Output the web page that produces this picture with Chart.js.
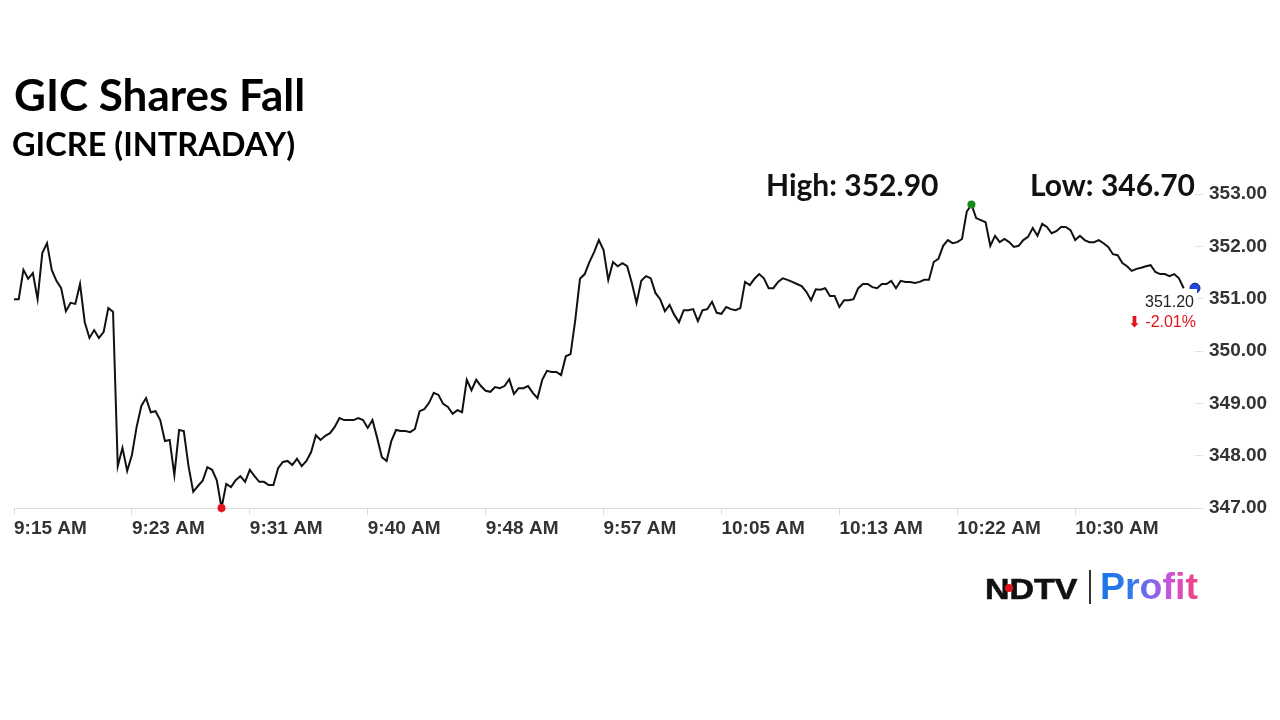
<!DOCTYPE html>
<html><head><meta charset="utf-8">
<script src="https://cdn.jsdelivr.net/npm/chart.js@4.4.1/dist/chart.umd.min.js"></script>
<style>
html,body{margin:0;padding:0;background:#fff;}
#wrap{position:relative;width:1280px;height:720px;overflow:hidden;background:#fff;}
#c{position:absolute;left:0;top:0;}
.t{position:absolute;white-space:nowrap;line-height:1;}
.lato{font-family:'Lato',sans-serif;font-weight:700;color:#111;}
.ar{font-family:'Liberation Sans',Arial,sans-serif;}
#title{left:14px;top:72px;font-size:44px;color:#000;}
#subtitle{left:12px;top:128px;font-size:32.5px;color:#000;}
#high{left:766px;top:169px;font-size:30px;}
#low{left:1030px;top:169px;font-size:30px;}
#box{position:absolute;left:1128px;top:289px;width:69px;height:40px;background:#fff;}
#last{right:86px;top:294px;font-size:16px;color:#222;}
#chg{right:84px;top:314px;font-size:16px;color:#e3141b;}
#chg .arr{font-family:'DejaVu Sans',sans-serif;font-size:15px;font-weight:bold;}
#ndtv{left:985px;top:575px;font-size:29px;font-weight:bold;color:#111;transform:scaleX(1.17);transform-origin:left top;-webkit-text-stroke:0.6px #111;}
#dot{position:absolute;left:1005px;top:584px;width:8px;height:8px;border-radius:50%;background:#e0141c;}
#bar{position:absolute;left:1089px;top:570px;width:2px;height:34px;background:#333;}
#profit{left:1100px;top:568px;font-size:37.5px;font-weight:bold;
  background:linear-gradient(90deg,#1a74e6 0%,#2f7aea 30%,#7d68ea 52%,#cc52da 72%,#f2407a 100%);
  -webkit-background-clip:text;background-clip:text;color:transparent;}
</style></head><body>
<div id="wrap">
<canvas id="c" width="1280" height="720"></canvas>
<div class="t lato" id="title"></div>
<div class="t lato" id="subtitle"></div>
<div class="t lato" id="high"></div>
<div class="t lato" id="low"></div>
<div id="box"></div>
<div class="t ar" id="last"></div>
<div class="t ar" id="chg"><span class="arr">⬇</span> <span id="chgv"></span></div>
<div class="t ar" id="ndtv">NDTV</div>
<div id="dot"></div>
<div id="bar"></div>
<div class="t ar" id="profit">Profit</div>
</div>
<script>
const titleText = 'GIC Shares Fall';
const subtitleText = 'GICRE (INTRADAY)';
const highText = 'High: 352.90';
const lowText = 'Low: 346.70';
const lastPriceText = '351.20';
const changeText = '-2.01%';

const tickLabels = ['9:15 AM','9:23 AM','9:31 AM','9:40 AM','9:48 AM','9:57 AM','10:05 AM','10:13 AM','10:22 AM','10:30 AM'];

const prices = [
350.99,350.99,351.55,351.38,351.49,350.99,351.87,352.06,351.55,351.34,
351.20,350.76,350.92,350.90,351.28,350.55,350.25,350.40,350.25,350.36,
350.82,350.75,347.80,348.15,347.71,348.01,348.55,348.95,349.10,348.83,
348.85,348.68,348.28,348.30,347.63,348.49,348.47,347.80,347.31,347.42,
347.52,347.78,347.73,347.53,347.00,347.46,347.40,347.53,347.61,347.50,
347.73,347.61,347.50,347.50,347.44,347.44,347.76,347.88,347.90,347.82,
347.94,347.80,347.90,348.07,348.39,348.30,348.38,348.43,348.55,348.72,
348.68,348.68,348.68,348.72,348.68,348.53,348.68,348.34,347.97,347.90,
348.28,348.49,348.47,348.47,348.45,348.51,348.85,348.89,349.01,349.20,
349.16,348.99,348.93,348.80,348.87,348.83,349.45,349.25,349.45,349.33,
349.24,349.22,349.31,349.29,349.33,349.46,349.18,349.29,349.29,349.33,
349.20,349.10,349.45,349.62,349.60,349.60,349.54,349.90,349.94,350.59,
351.38,351.47,351.70,351.89,352.12,351.93,351.36,351.70,351.62,351.68,
351.62,351.30,350.92,351.34,351.43,351.39,351.11,350.99,350.76,350.88,
350.69,350.55,350.78,350.78,350.80,350.57,350.78,350.80,350.94,350.73,
350.71,350.84,350.80,350.78,350.82,351.32,351.26,351.38,351.47,351.39,
351.20,351.20,351.32,351.39,351.36,351.32,351.28,351.24,351.13,350.97,
351.18,351.17,351.20,351.05,351.05,350.84,350.97,350.97,350.99,351.20,
351.28,351.28,351.22,351.20,351.28,351.28,351.34,351.20,351.34,351.32,
351.32,351.30,351.32,351.36,351.36,351.70,351.76,352.01,352.12,352.06,
352.08,352.14,352.66,352.80,352.54,352.50,352.46,352.01,352.20,352.08,
352.14,352.08,351.99,352.01,352.12,352.18,352.35,352.20,352.43,352.37,
352.25,352.29,352.37,352.37,352.31,352.12,352.20,352.12,352.08,352.08,
352.12,352.06,351.99,351.85,351.83,351.68,351.62,351.53,351.57,351.59,
351.62,351.64,351.51,351.47,351.47,351.43,351.47,351.39,351.20
];

const yMin = 347, yMax = 353;
const ticksEvery = 25;
const xMax = 250.4;

document.getElementById('title').textContent = titleText;
document.getElementById('subtitle').textContent = subtitleText;
document.getElementById('high').textContent = highText;
document.getElementById('low').textContent = lowText;
document.getElementById('last').textContent = lastPriceText;
document.getElementById('chgv').textContent = changeText;

const points = prices.map((v, i) => ({x: i, y: v}));
const hiIdx = prices.indexOf(Math.max(...prices));
const loIdx = prices.indexOf(Math.min(...prices));
const axisFont = {family: "'Liberation Sans', Arial, sans-serif", size: 19, weight: 'bold'};

const endMarker = {
  id: 'endMarker',
  afterDatasetsDraw(chart) {
    const {ctx, chartArea, scales} = chart;
    const y = scales.y.getPixelForValue(prices[prices.length - 1]);
    ctx.save();
    ctx.beginPath();
    ctx.arc(chartArea.right, y, 5, 0, Math.PI * 2);
    ctx.fillStyle = '#2347e6';
    ctx.fill();
    ctx.lineWidth = 1;
    ctx.strokeStyle = '#0d1f73';
    ctx.stroke();
    ctx.restore();
  }
};

new Chart(document.getElementById('c'), {
  type: 'line',
  data: {datasets: [{
    data: points,
    borderColor: '#111',
    borderWidth: 2,
    tension: 0,
    fill: false,
    clip: false,
    pointRadius: c => (c.dataIndex === hiIdx || c.dataIndex === loIdx) ? 4 : 0,
    pointHoverRadius: 0,
    pointBorderWidth: 0,
    pointBackgroundColor: c => c.dataIndex === hiIdx ? '#178a17' : '#e8121b'
  }]},
  options: {
    responsive: false,
    animation: false,
    devicePixelRatio: 1,
    events: [],
    layout: {padding: {left: 14, right: 0, top: 194, bottom: 172}},
    plugins: {legend: {display: false}, tooltip: {enabled: false}, title: {display: false}},
    scales: {
      x: {
        type: 'linear', min: 0, max: xMax,
        afterBuildTicks: s => { s.ticks = tickLabels.map((_, k) => ({value: k * ticksEvery})); },
        afterFit: s => { s.height = 40; },
        grid: {drawOnChartArea: false, drawTicks: true, tickLength: 7, color: '#dcdcdc'},
        border: {display: true, color: '#dcdcdc', width: 1},
        ticks: {align: 'start', padding: 2, maxRotation: 0, autoSkip: false, color: '#333', font: axisFont,
          callback: v => tickLabels[Math.round(v / ticksEvery)]}
      },
      y: {
        position: 'right', min: yMin, max: yMax,
        afterFit: s => { s.width = 85; },
        grid: {drawOnChartArea: false, drawTicks: true, tickLength: 8, color: '#e2e2e2'},
        border: {display: false},
        ticks: {stepSize: 1, padding: 6, color: '#333', font: axisFont, callback: v => v.toFixed(2)}
      }
    }
  },
  plugins: [endMarker]
});
</script>
</body></html>
